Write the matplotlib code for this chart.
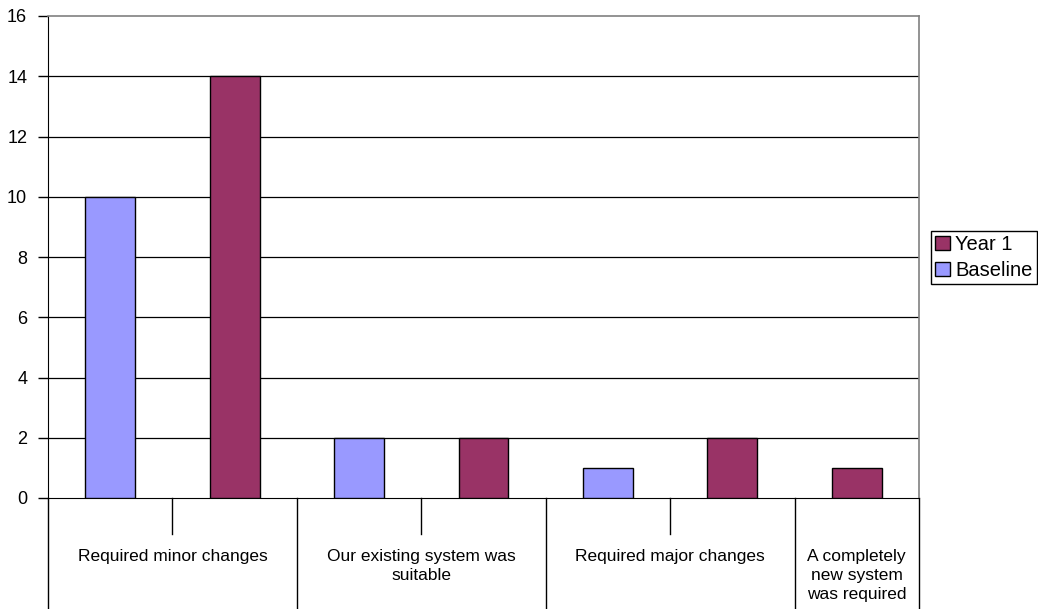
import numpy as np
import matplotlib
matplotlib.use('Agg')
import matplotlib.pyplot as plt
from matplotlib.patches import Patch

plt.rcParams['font.family'] = ['Liberation Sans', 'DejaVu Sans']

# data
groups = ['Required minor changes', 'Our existing system was\nsuitable',
          'Required major changes', 'A completely\nnew system\nwas required']
baseline = [10, 2, 1, np.nan]
year1 = [14, 2, 2, 1]
yticks = [0, 2, 4, 6, 8, 10, 12, 14, 16]

c_base = '#9999FF'
c_year = '#993366'

# each group gets one slot per non-empty series value
base_x, base_v, year_x, year_v = [], [], [], []
bounds = [-0.5]
sub_ticks = []
pos = 0
for b, y in zip(baseline, year1):
    start = pos
    if not np.isnan(b):
        base_x.append(pos); base_v.append(b); pos += 1
    if not np.isnan(y):
        year_x.append(pos); year_v.append(y); pos += 1
    for k in range(start + 1, pos):
        sub_ticks.append(k - 0.5)
    bounds.append(pos - 0.5)

fig = plt.figure(figsize=(10.38, 6.09), dpi=100)
ax = fig.add_axes([48 / 1038, 1 - 498 / 609, (919 - 48) / 1038, (498 - 16) / 609])

ax.bar(base_x, base_v, width=0.4, color=c_base, edgecolor='black', linewidth=1, zorder=3)
ax.bar(year_x, year_v, width=0.4, color=c_year, edgecolor='black', linewidth=1, zorder=3)

ax.set_xlim(-0.5, pos - 0.5)
ax.set_ylim(0, 16)
ax.set_yticks(yticks)
ax.tick_params(axis='y', labelsize=13, length=7, width=1, color='black', pad=8)
ax.set_xticks([])
for y in yticks[1:-1]:
    ax.axhline(y, color='black', linewidth=0.9, zorder=1)

for side in ['top', 'right']:
    ax.spines[side].set_color('#808080')
    ax.spines[side].set_linewidth(1.2)
ax.spines['left'].set_color('black')
ax.spines['bottom'].set_color('black')

# category axis drawn below the plot
tr = ax.get_xaxis_transform()
low = -111 / 482
for xb in bounds:
    ax.plot([xb, xb], [0, low], color='black', linewidth=1, transform=tr, clip_on=False)
for xs in sub_ticks:
    ax.plot([xs, xs], [0, -36 / 482], color='black', linewidth=1, transform=tr, clip_on=False)
for i, g in enumerate(groups):
    cx = (bounds[i] + bounds[i + 1]) / 2
    ax.text(cx, -51 / 482, g, transform=tr, ha='center', va='top', fontsize=12.5,
            linespacing=1.35)

handles = [Patch(facecolor=c_year, edgecolor='black', label='Year 1'),
           Patch(facecolor=c_base, edgecolor='black', label='Baseline')]
fig.legend(handles=handles, loc='center left', bbox_to_anchor=(931 / 1038, 1 - 257.5 / 609),
           fontsize=14.5, frameon=True, fancybox=False, edgecolor='black', framealpha=1,
           handlelength=0.75, handleheight=0.75, handletextpad=0.25, borderpad=0.2,
           labelspacing=0.35, borderaxespad=0)

fig.savefig('out.png', dpi=100)
